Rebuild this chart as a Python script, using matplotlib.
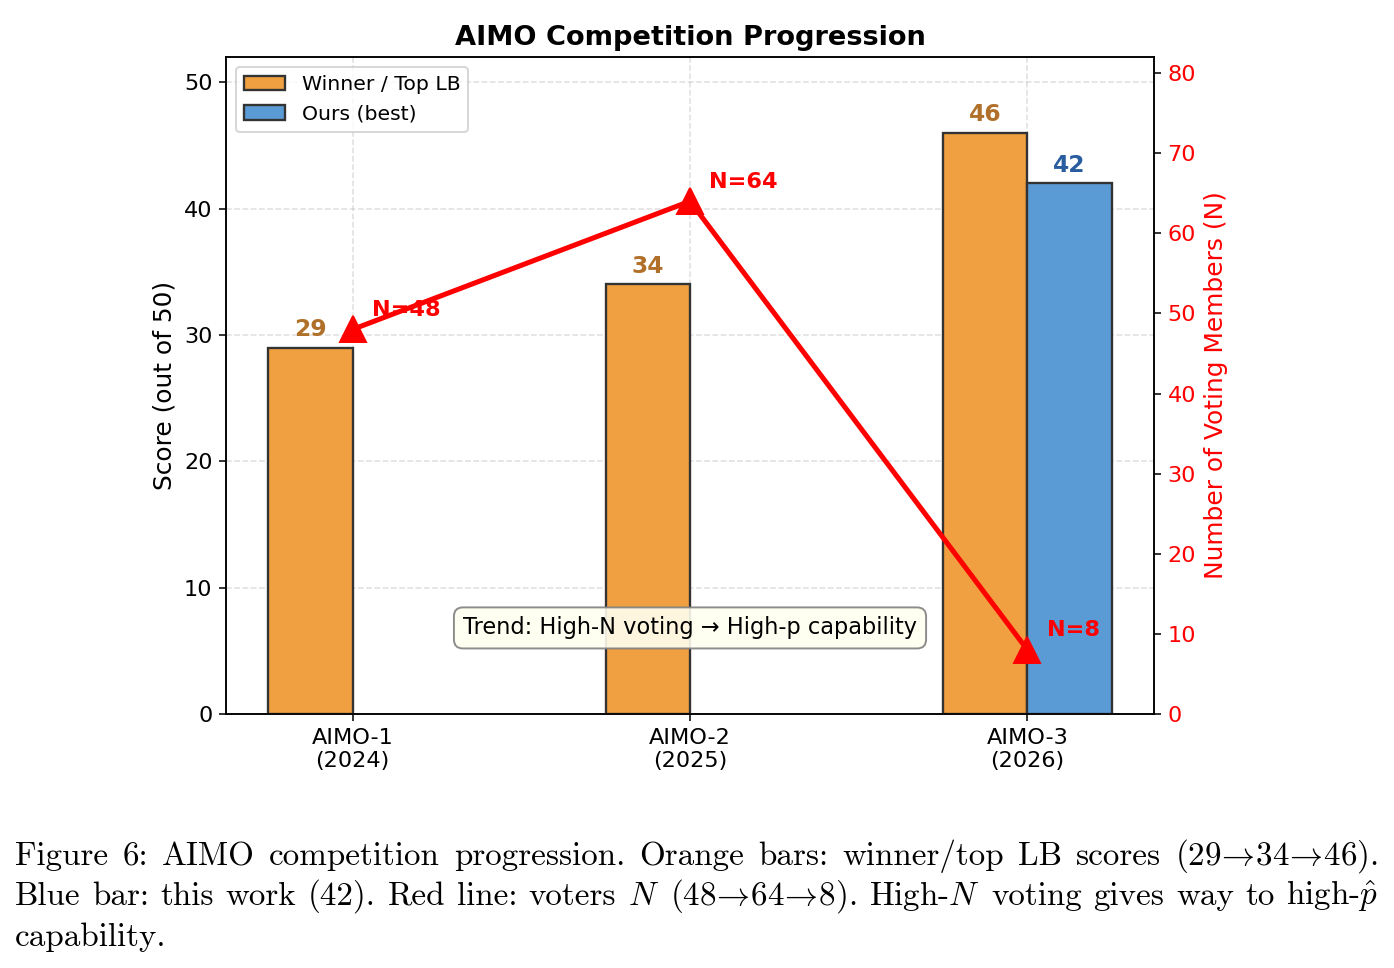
import matplotlib
matplotlib.use("Agg")
import matplotlib.pyplot as plt
import numpy as np

# ---- data ----
competitions = ["AIMO-1\n(2024)", "AIMO-2\n(2025)", "AIMO-3\n(2026)"]
winner_scores = [29, 34, 46]
ours_scores = [None, None, 42]
voters = [48, 64, 8]
voter_labels = ["N=48", "N=64", "N=8"]

caption_lines = [
    ["Figure", "6:", "AIMO", "competition", "progression.", "Orange", "bars:",
     "winner/top", "LB", "scores", r"(29$\!\rightarrow\!$34$\!\rightarrow\!$46)."],
    ["Blue", "bar:", "this", "work", "(42).", "Red", "line:", "voters", r"$N$",
     r"(48$\!\rightarrow\!$64$\!\rightarrow\!$8).", r"High-$N$", "voting", "gives", "way",
     "to", r"high-$\hat{p}$"],
    ["capability."],
]

plt.rcParams["mathtext.fontset"] = "cm"

DPI = 140
W, H = 1394, 968
fig = plt.figure(figsize=(W / DPI, H / DPI), dpi=DPI)
ax = fig.add_axes([226 / W, 1 - 714 / H, (1154 - 226) / W, (714 - 57) / H])

orange = "#F0A040"
blue = "#5B9BD5"
edge = "#333333"
bw = 0.25
x = np.arange(len(competitions))

ax.bar(x - bw / 2, winner_scores, bw, color=orange, edgecolor=edge, linewidth=1.2,
       label="Winner / Top LB", zorder=3)
ours_x = [xi + bw / 2 for xi, v in zip(x, ours_scores) if v is not None]
ours_v = [v for v in ours_scores if v is not None]
ax.bar(ours_x, ours_v, bw, color=blue, edgecolor=edge, linewidth=1.2,
       label="Ours (best)", zorder=3)

for xi, v in zip(x, winner_scores):
    ax.text(xi - bw / 2, v + 0.5, str(v), ha="center", va="bottom",
            fontsize=12, fontweight="bold", color="#B0702A")
for xi, v in zip(ours_x, ours_v):
    ax.text(xi, v + 0.5, str(v), ha="center", va="bottom",
            fontsize=12, fontweight="bold", color="#2A5CA0")

ax.set_ylim(0, 52)
ax.set_xticks(x)
ax.set_xticklabels(competitions, fontsize=11.5)
ax.tick_params(axis="y", labelsize=11.5)
ax.set_ylabel("Score (out of 50)", fontsize=12.8)
ax.set_title("AIMO Competition Progression", fontsize=14, fontweight="bold")
ax.grid(True, linestyle="--", alpha=0.4, zorder=0)
ax.set_axisbelow(True)
ax.legend(loc="upper left", fontsize=10.5)

ax2 = ax.twinx()
ax2.plot(x, voters, color="red", linewidth=2.6, marker="^", markersize=13, zorder=5)
for xi, v, lab in zip(x, voters, voter_labels):
    ax2.annotate(lab, (xi, v), xytext=(10, 10), textcoords="offset points",
                 fontsize=11.5, fontweight="bold", color="red", va="center")
ax2.set_ylim(0, 82)
ax2.set_ylabel("Number of Voting Members (N)", fontsize=12.8, color="red")
ax2.tick_params(axis="y", labelcolor="red", labelsize=11.5)

ax.text(0.5, 0.131, "Trend: High-N voting \u2192 High-p capability", transform=ax.transAxes,
        ha="center", va="center", fontsize=11.6,
        bbox=dict(boxstyle="round,pad=0.4", facecolor="#FFFFF0", edgecolor="gray", alpha=0.9),
        zorder=10)

# ---- caption (justified) ----
fig.canvas.draw()
renderer = fig.canvas.get_renderer()
cap_fs = 17
left_px, right_px = 15, 1378
baselines = [865, 905, 946]
for li, (words, yb) in enumerate(zip(caption_lines, baselines)):
    texts = [fig.text(0, 1 - yb / H, w, family="cmr10", fontsize=cap_fs, va="baseline")
             for w in words]
    widths = [t.get_window_extent(renderer).width for t in texts]
    if li < len(caption_lines) - 1 and len(words) > 1:
        gap = (right_px - left_px - sum(widths)) / (len(words) - 1)
    else:
        gap = cap_fs * DPI / 72 * 0.333
    xp = left_px
    for t, wd in zip(texts, widths):
        t.set_x(xp / W)
        xp += wd + gap

fig.savefig("out.png", dpi=DPI)
